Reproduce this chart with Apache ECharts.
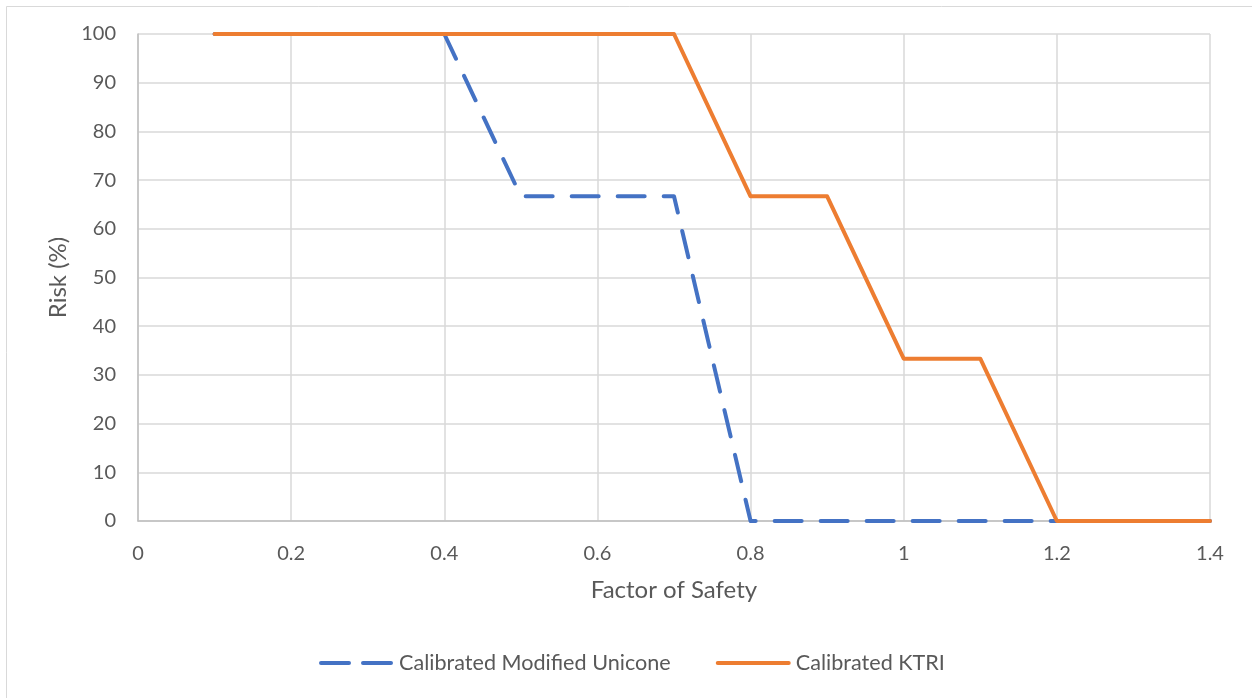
<!DOCTYPE html>
<html>
<head>
<meta charset="utf-8">
<script src="https://cdn.jsdelivr.net/npm/echarts@6/dist/echarts.min.js"></script>
<style>
  html, body { margin: 0; padding: 0; background: #fff; }
  #chart { width: 1252px; height: 698px; }
</style>
</head>
<body>
<div id="chart"></div>
<script>
// Risk of failure versus factor of safety for two calibrated models
const factorOfSafety = [0.1, 0.2, 0.3, 0.4, 0.5, 0.6, 0.7, 0.8, 0.9, 1.0, 1.1, 1.2, 1.3, 1.4];
const modifiedUnicone = [100, 100, 100, 100, 66.67, 66.67, 66.67, 0, 0, 0, 0, 0, 0, 0];
const ktri = [100, 100, 100, 100, 100, 100, 100, 66.67, 66.67, 33.33, 33.33, 0, 0, 0];
const seriesNames = ['Calibrated Modified Unicone', 'Calibrated KTRI'];

const pairs = (xs, ys) => xs.map((x, i) => [x, ys[i]]);
const FONT = 'Lato, "Open Sans", sans-serif';
const TEXT = '#595959';
const BLUE = '#4472C4';
const ORANGE = '#ED7D31';

const chart = echarts.init(document.getElementById('chart'), null, { renderer: 'canvas' });
chart.setOption({
  backgroundColor: '#ffffff',
  animation: false,
  graphic: [{
    type: 'rect',
    shape: { x: 6.5, y: 6.5, width: 1300, height: 800 },
    style: { fill: 'none', stroke: '#D9D9D9', lineWidth: 1 },
    silent: true,
    z: -10
  }],
  grid: { left: 138, right: 42, top: 34, bottom: 177, containLabel: false },
  legend: {
    top: 647,
    left: 314,
    itemWidth: 71,
    itemHeight: 14,
    itemGap: 45,
    textStyle: { fontFamily: FONT, fontSize: 21.6, color: TEXT, padding: [0, 0, 0, 2] },
    itemStyle: { opacity: 0 },
    data: [
      { name: seriesNames[0], lineStyle: { color: BLUE, width: 4, type: [28, 14], cap: 'round' } },
      { name: seriesNames[1], lineStyle: { color: ORANGE, width: 4, cap: 'round' } }
    ]
  },
  xAxis: {
    type: 'value',
    min: 0, max: 1.4, interval: 0.2,
    name: 'Factor of Safety',
    nameLocation: 'middle',
    nameGap: 57,
    nameTextStyle: { fontFamily: FONT, fontSize: 24, color: TEXT },
    axisLine: { show: true, lineStyle: { color: '#BFBFBF', width: 1.5 } },
    axisTick: { show: false },
    axisLabel: {
      margin: 23,
      fontFamily: FONT, fontSize: 20, color: TEXT,
      formatter: v => String(+v.toFixed(1))
    },
    splitLine: { show: true, lineStyle: { color: '#D9D9D9', width: 1.5 } }
  },
  yAxis: {
    type: 'value',
    min: 0, max: 100, interval: 10,
    name: 'Risk (%)',
    nameLocation: 'middle',
    nameGap: 68,
    nameRotate: 90,
    nameTextStyle: { fontFamily: FONT, fontSize: 24, color: TEXT },
    axisLine: { show: true, lineStyle: { color: '#BFBFBF', width: 1.5 } },
    axisTick: { show: false },
    axisLabel: { margin: 22, fontFamily: FONT, fontSize: 20, color: TEXT },
    splitLine: { show: true, lineStyle: { color: '#D9D9D9', width: 1.5 } }
  },
  series: [
    {
      name: seriesNames[0],
      type: 'line',
      data: pairs(factorOfSafety, modifiedUnicone),
      showSymbol: false,
      symbol: 'none',
      color: BLUE,
      lineStyle: { color: BLUE, width: 4, type: [27, 19], cap: 'round', join: 'round' },
      z: 2
    },
    {
      name: seriesNames[1],
      type: 'line',
      data: pairs(factorOfSafety, ktri),
      showSymbol: false,
      symbol: 'none',
      color: ORANGE,
      lineStyle: { color: ORANGE, width: 4, cap: 'round', join: 'round' },
      z: 3
    }
  ]
});
</script>
</body>
</html>
